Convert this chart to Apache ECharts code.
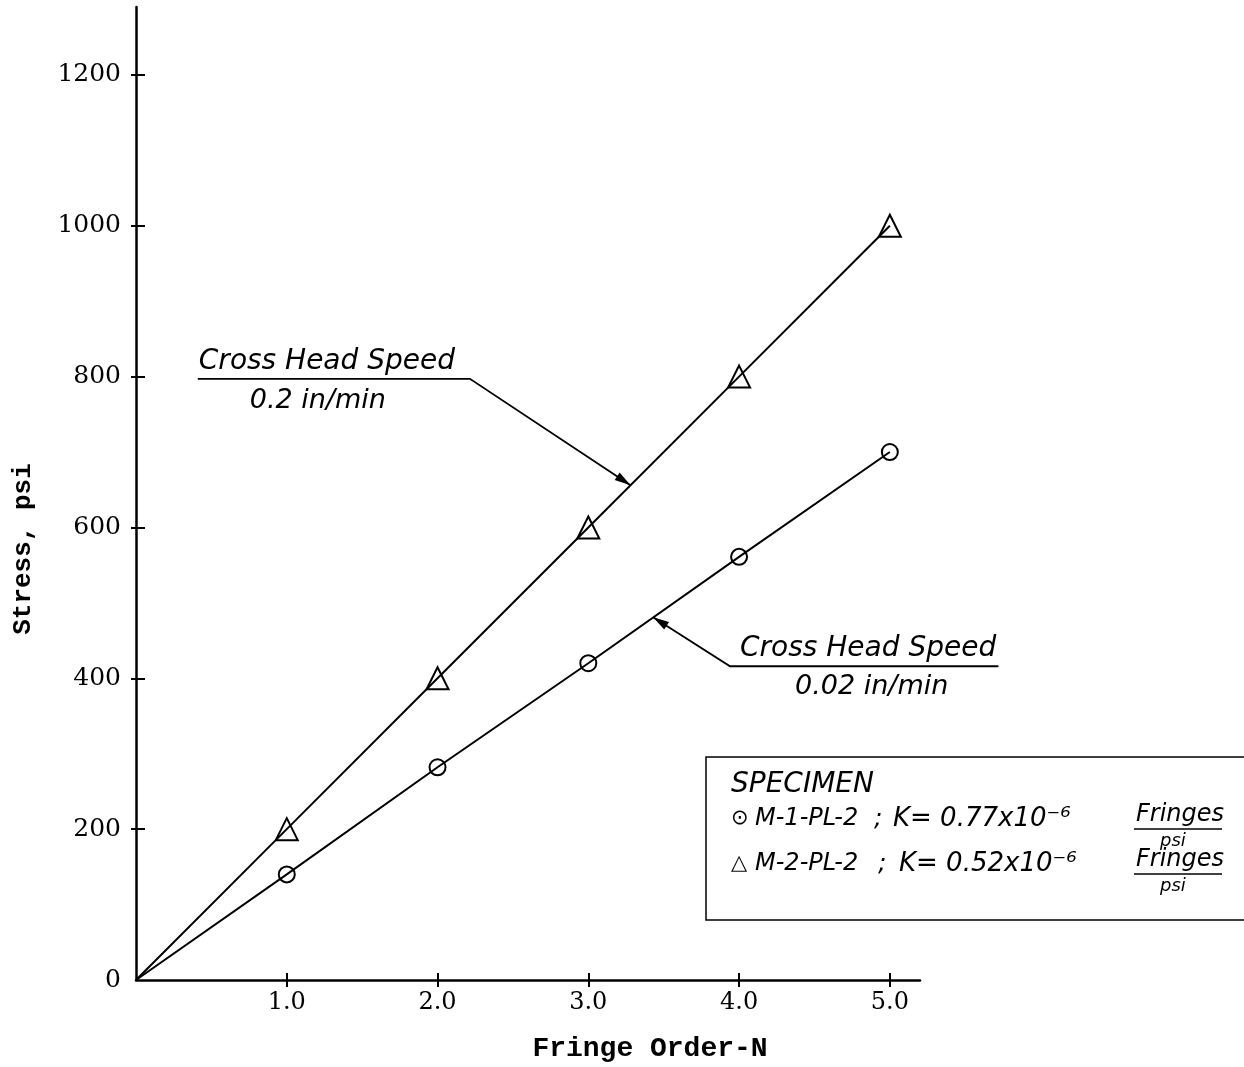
<!DOCTYPE html>
<html><head><meta charset="utf-8">
<script src="https://cdn.jsdelivr.net/npm/echarts@6/dist/echarts.min.js"></script>
<style>html,body{margin:0;padding:0;background:#fff}#c{width:1244px;height:1067px}</style>
</head><body><div id="c"></div>
<script>
// ---- data ----
const fringeOrder = [1, 2, 3, 4, 5];
const stressM1 = [140, 282, 420, 561, 700];   // circles, M-1-PL-2
const stressM2 = [200, 400, 600, 800, 1000];  // triangles, M-2-PL-2
const xTickValues = [1, 2, 3, 4, 5];
const yTickValues = [200, 400, 600, 800, 1000, 1200];
const yLabelValues = [0, 200, 400, 600, 800, 1000, 1200];
const xTitle = 'Fringe Order-N';
const yTitle = 'Stress, psi';
const annotTop = ['Cross Head Speed', '0.2 in/min'];
const annotBottom = ['Cross Head Speed', '0.02 in/min'];
const legendTitle = 'SPECIMEN';
const legendRows = [
  {sym: '\u2299', name: 'M-1-PL-2', k: 'K= 0.77x10\u207B\u2076'},
  {sym: '\u25B3', name: 'M-2-PL-2', k: 'K= 0.52x10\u207B\u2076'}
];
// annotation anchors in data coordinates
const annot1Tip = [3.28, 656], annot1Elbow = [2.215, 797], annot1StartX = 0.41;
const annot2Tip = [3.43, 481], annot2Elbow = [3.94, 416], annot2EndX = 5.72;

function withOrigin(xs, ys) {
  const d = [{value: [0, 0], symbol: 'none'}];
  xs.forEach((x, i) => d.push([x, ys[i]]));
  return d;
}

const chart = echarts.init(document.getElementById('c'));
const blk = '#000';
const tickStyle = {color: blk, width: 2};
chart.setOption({
  animation: false,
  backgroundColor: '#fff',
  grid: {left: 136, top: 7, right: 324, bottom: 87, containLabel: false},
  xAxis: [{
    type: 'value', min: 0, max: 5.2, position: 'bottom',
    axisLine: {show: true, onZero: false, lineStyle: {color: blk, width: 2.5}},
    axisTick: {show: true, customValues: xTickValues, length: 7, lineStyle: tickStyle},
    axisLabel: {customValues: xTickValues, formatter: v => v.toFixed(1), fontFamily: 'DejaVu Serif', fontSize: 24, color: blk, margin: 11},
    splitLine: {show: false}
  }, {
    type: 'value', min: 0, max: 5.2, position: 'bottom', offset: 0,
    axisLine: {show: false},
    axisTick: {show: true, inside: true, customValues: xTickValues, length: 7, lineStyle: tickStyle},
    axisLabel: {show: false}, splitLine: {show: false}
  }],
  yAxis: [{
    type: 'value', min: 0, max: 1290, position: 'left',
    axisLine: {show: true, onZero: false, lineStyle: {color: blk, width: 2.5}},
    axisTick: {show: true, customValues: yTickValues, length: 5, lineStyle: tickStyle},
    axisLabel: {customValues: yLabelValues, formatter: v => String(v), fontFamily: 'DejaVu Serif', fontSize: 25, color: blk, margin: 15},
    splitLine: {show: false}
  }, {
    type: 'value', min: 0, max: 1290, position: 'left', offset: 0,
    axisLine: {show: false},
    axisTick: {show: true, inside: true, customValues: yTickValues, length: 9, lineStyle: tickStyle},
    axisLabel: {show: false}, splitLine: {show: false}
  }],
  series: [{
    type: 'line', name: 'M-2-PL-2', data: withOrigin(fringeOrder, stressM2),
    symbol: 'triangle', symbolSize: 22,
    itemStyle: {color: 'rgba(0,0,0,0)', borderColor: blk, borderWidth: 2},
    lineStyle: {color: blk, width: 2}
  }, {
    type: 'line', name: 'M-1-PL-2', data: withOrigin(fringeOrder, stressM1),
    symbol: 'circle', symbolSize: 16,
    itemStyle: {color: 'rgba(0,0,0,0)', borderColor: blk, borderWidth: 2},
    lineStyle: {color: blk, width: 2}
  }]
});

function px(p) { return chart.convertToPixel({gridIndex: 0}, p); }
function arrowHead(tip, from, len, half) {
  const dx = tip[0] - from[0], dy = tip[1] - from[1];
  const d = Math.hypot(dx, dy), ux = dx / d, uy = dy / d;
  const bx = tip[0] - ux * len, by = tip[1] - uy * len;
  return [[tip[0], tip[1]], [bx - uy * half, by + ux * half], [bx + uy * half, by - ux * half]];
}
const hand = {fontFamily: 'DejaVu Sans', fontStyle: 'italic', fill: blk};

const t1 = px(annot1Tip), e1 = px(annot1Elbow), s1 = px([annot1StartX, annot1Elbow[1]]);
const t2 = px(annot2Tip), e2 = px(annot2Elbow), s2 = px([annot2EndX, annot2Elbow[1]]);

const g = [];
// annotation 1
g.push({type: 'polyline', shape: {points: [s1, e1, t1]}, style: {stroke: blk, lineWidth: 1.8, fill: null}});
g.push({type: 'polygon', shape: {points: arrowHead(t1, e1, 16, 4.5)}, style: {fill: blk}});
g.push({type: 'text', x: s1[0] + 1, y: e1[1] - 3, style: Object.assign({text: annotTop[0], fontSize: 28, verticalAlign: 'bottom'}, hand)});
g.push({type: 'text', x: s1[0] + 52, y: e1[1] + 9, style: Object.assign({text: annotTop[1], fontSize: 27, verticalAlign: 'top'}, hand)});
// annotation 2
g.push({type: 'polyline', shape: {points: [s2, e2, t2]}, style: {stroke: blk, lineWidth: 1.8, fill: null}});
g.push({type: 'polygon', shape: {points: arrowHead(t2, e2, 16, 4.5)}, style: {fill: blk}});
g.push({type: 'text', x: e2[0] + 10, y: e2[1] - 4, style: Object.assign({text: annotBottom[0], fontSize: 28, verticalAlign: 'bottom'}, hand)});
g.push({type: 'text', x: e2[0] + 65, y: e2[1] + 7, style: Object.assign({text: annotBottom[1], fontSize: 27, verticalAlign: 'top'}, hand)});
// legend box
g.push({type: 'rect', shape: {x: 706, y: 757, width: 600, height: 163}, style: {stroke: blk, lineWidth: 1.5, fill: null}});
g.push({type: 'text', x: 731, y: 785, style: Object.assign({text: legendTitle, fontSize: 28, verticalAlign: 'middle'}, hand)});
const rowY = [819, 864];
legendRows.forEach((r, i) => {
  const y = rowY[i];
  g.push({type: 'text', x: 731, y: y, style: {text: r.sym, fontFamily: 'DejaVu Sans', fontSize: 21, fill: blk, verticalAlign: 'middle'}});
  g.push({type: 'text', x: 755, y: y, style: Object.assign({text: r.name, fontSize: 24, verticalAlign: 'middle'}, hand)});
  g.push({type: 'text', x: 874 + i * 4, y: y, style: Object.assign({text: ';', fontSize: 25, verticalAlign: 'middle'}, hand)});
  g.push({type: 'text', x: 893 + i * 6, y: y, style: Object.assign({text: r.k, fontSize: 26, verticalAlign: 'middle'}, hand)});
  g.push({type: 'text', x: 1136, y: y - 4, style: Object.assign({text: 'Fringes', fontSize: 24, verticalAlign: 'middle'}, hand)});
  g.push({type: 'line', shape: {x1: 1134, y1: y + 10, x2: 1222, y2: y + 10}, style: {stroke: blk, lineWidth: 1.5}});
  g.push({type: 'text', x: 1160, y: y + 22, style: Object.assign({text: 'psi', fontSize: 18, verticalAlign: 'middle'}, hand)});
});
// axis titles
g.push({type: 'text', x: 650, y: 1049, style: {text: xTitle, fontFamily: 'Liberation Mono', fontWeight: 'bold', fontSize: 28, fill: blk, align: 'center', verticalAlign: 'middle'}});
g.push({type: 'text', x: 23, y: 549, rotation: Math.PI / 2, style: {text: yTitle, fontFamily: 'Liberation Mono', fontWeight: 'bold', fontSize: 26, fill: blk, align: 'center', verticalAlign: 'middle'}});

chart.setOption({graphic: g});
</script>
</body></html>
